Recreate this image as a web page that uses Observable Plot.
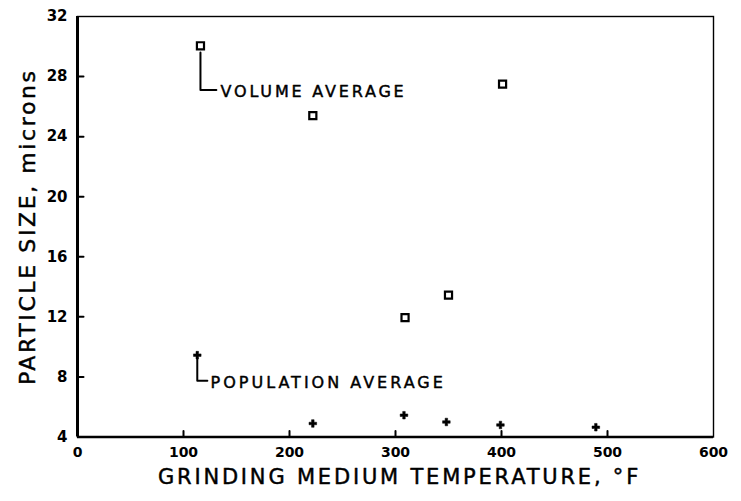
<!DOCTYPE html>
<html>
<head>
<meta charset="utf-8">
<script src="https://cdn.jsdelivr.net/npm/d3@7"></script>
<script src="https://cdn.jsdelivr.net/npm/@observablehq/plot@0.6"></script>
<style>
  html, body { margin: 0; padding: 0; background: #fff; }
  #chart svg { display: block; }
  g[aria-label="x-axis tick label"], g[aria-label="y-axis tick label"] {
    font-family: "DejaVu Sans", sans-serif; font-weight: bold; font-size: 14px;
  }
  g[aria-label="y-axis tick label"] { font-size: 15px; }
</style>
</head>
<body>
<div id="chart"></div>
<script>
// ---- data ----
const xTicks = [0, 100, 200, 300, 400, 500, 600];
const yTicks = [4, 8, 12, 16, 20, 24, 28, 32];

// Volume average (open squares)
const volTemp = [222, 309, 350, 401];
const volSize = [25.4, 11.95, 13.45, 27.5];

// Population average (plus markers)
const popTemp = [222, 308, 348, 399, 489];
const popSize = [4.9, 5.45, 5.0, 4.8, 4.65];

// Legend annotations (in data units)
const legendLabels = ["VOLUME AVERAGE", "POPULATION AVERAGE"];
const legendTemp = [116, 113];
const legendSize = [30.05, 9.45];
const bracketTop = [29.6, 9.2];
const bracketBottom = [27.1, 7.75];
const bracketEnd = [131, 122.5];
const labelTemp = [135, 125.5];
const labelSize = [27.0, 7.6];

const xTitle = "GRINDING MEDIUM TEMPERATURE, °F";
const yTitle = "PARTICLE SIZE, microns";

// ---- build tables ----
const vol = volTemp.map((t, i) => ({t, s: volSize[i]}));
const pop = popTemp.map((t, i) => ({t, s: popSize[i]}));
const legend = legendLabels.map((label, i) => ({
  label, t: legendTemp[i], s: legendSize[i], lt: labelTemp[i], ls: labelSize[i]
}));
const brackets = legendLabels.flatMap((label, i) => [
  {label, t: legendTemp[i], s: bracketTop[i]},
  {label, t: legendTemp[i], s: bracketBottom[i]},
  {label, t: bracketEnd[i], s: bracketBottom[i]}
]);

const fontTitle = "'DejaVu Sans', sans-serif";
// a plain straight tick shape for Plot.vector
const tickShape = {draw(context, l) { context.moveTo(0, 0); context.lineTo(0, -l); }};
const innerX = xTicks.slice(1, -1);
const innerY = yTicks.slice(1, -1);
const textInk = {fill: "#000", stroke: "#000", strokeWidth: 0.45, fontFamily: fontTitle};

const chart = Plot.plot({
  width: 741,
  height: 501,
  marginLeft: 77,
  marginRight: 28,
  marginTop: 16,
  marginBottom: 64.5,
  style: {background: "#fff", color: "#000"},
  x: {domain: [0, 600]},
  y: {domain: [4, 32]},
  marks: [
    Plot.frame({stroke: "#000", strokeWidth: 1.4}),
    Plot.ruleX([0], {stroke: "#000", strokeWidth: 3}),
    Plot.ruleY([4], {stroke: "#000", strokeWidth: 2.5}),
    // inward tick marks
    Plot.vector(innerX, {x: d => d, y: yTicks[0], length: 6, rotate: 0, anchor: "start", shape: tickShape, stroke: "#000", strokeWidth: 2}),
    Plot.vector(innerY, {x: xTicks[0], y: d => d, length: 6, rotate: 90, anchor: "start", shape: tickShape, stroke: "#000", strokeWidth: 2}),
    Plot.axisX({ticks: xTicks, tickSize: 0, tickPadding: 10, tickFormat: d => String(d), label: null}),
    Plot.axisY({ticks: yTicks, tickSize: 0, tickPadding: 10, tickFormat: d => String(d), label: null}),
    Plot.text([xTitle], {frameAnchor: "bottom", dy: 40, dx: 4, textAnchor: "middle", lineAnchor: "middle", fontSize: 21, ...textInk}),
    Plot.text([yTitle], {frameAnchor: "left", dx: -50, rotate: -90, textAnchor: "middle", lineAnchor: "middle", fontSize: 22, ...textInk}),
    // legend brackets
    Plot.line(brackets, {x: "t", y: "s", z: "label", stroke: "#000", strokeWidth: 2, curve: "linear"}),
    Plot.dot(legend.slice(0, 1), {x: "t", y: "s", symbol: "square", r: 4, stroke: "#000", strokeWidth: 2.2, fill: "#fff"}),
    Plot.dot(legend.slice(1), {x: "t", y: "s", symbol: "cross", r: 3.2, fill: "#000", stroke: "#000", strokeWidth: 0.5}),
    Plot.text(legend, {x: "lt", y: "ls", text: "label", textAnchor: "start", lineAnchor: "middle", fontSize: 16, ...textInk}),
    // data
    Plot.dot(vol, {x: "t", y: "s", symbol: "square", r: 4, stroke: "#000", strokeWidth: 2.2, fill: "#fff"}),
    Plot.dot(pop, {x: "t", y: "s", symbol: "cross", r: 3.2, fill: "#000", stroke: "#000", strokeWidth: 0.5})
  ]
});
// wide lettering like the original hand-lettered chart
const spacing = new Map([[xTitle, "2.8px"], [yTitle, "2.6px"], [legendLabels[0], "2.8px"], [legendLabels[1], "3px"]]);
d3.select(chart).selectAll("text").each(function() {
  const s = spacing.get(this.textContent);
  if (s) this.setAttribute("letter-spacing", s);
});
document.getElementById("chart").appendChild(chart);
</script>
</body>
</html>
